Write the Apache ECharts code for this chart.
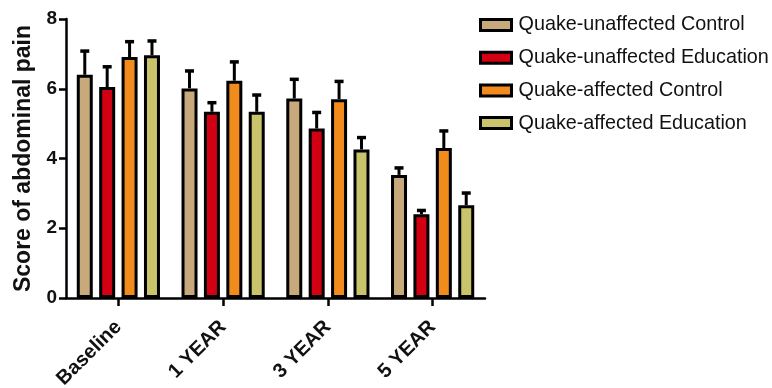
<!DOCTYPE html>
<html>
<head>
<meta charset="utf-8">
<script src="https://cdn.jsdelivr.net/npm/echarts@6/dist/echarts.min.js"></script>
<style>html,body{margin:0;padding:0;background:#fff}#c{width:772px;height:388px}</style>
</head>
<body>
<div id="c"></div>
<script>
const categories = ['Baseline', '1 YEAR', '3 YEAR', '5 YEAR'];
const seriesNames = ['Quake-unaffected Control', 'Quake-unaffected Education', 'Quake-affected Control', 'Quake-affected Education'];
const unaffectedControl = [6.40, 6.01, 5.72, 3.53];
const unaffectedEducation = [6.05, 5.34, 4.86, 2.40];
const affectedControl = [6.91, 6.23, 5.70, 4.30];
const affectedEducation = [6.96, 5.34, 4.26, 2.66];
const unaffectedControlErr = [0.68, 0.50, 0.55, 0.20];
const unaffectedEducationErr = [0.58, 0.26, 0.46, 0.11];
const affectedControlErr = [0.44, 0.54, 0.51, 0.49];
const affectedEducationErr = [0.41, 0.48, 0.34, 0.35];
const yTicks = [0, 2, 4, 6, 8];
const colors = ['#C8A97C', '#D10012', '#F18B1C', '#C9C46B'];

const values = [unaffectedControl, unaffectedEducation, affectedControl, affectedEducation];
const errors = [unaffectedControlErr, unaffectedEducationErr, affectedControlErr, affectedEducationErr];

const FONT = 'Liberation Sans';
const BAR_W = 16;
const GAP = 0.4;
const pitch = BAR_W * (1 + GAP);

const series = [];
values.forEach((vals, i) => {
  series.push({
    name: seriesNames[i],
    type: 'bar',
    data: vals,
    barWidth: BAR_W,
    barGap: (GAP * 100) + '%',
    itemStyle: { color: colors[i], borderColor: '#000', borderWidth: 3 },
    z: 2
  });
});
values.forEach((vals, i) => {
  series.push({
    name: 'err' + i,
    type: 'custom',
    data: vals.map((v, k) => [k, v, v + errors[i][k]]),
    z: 1,
    renderItem: function (params, api) {
      const c = api.value(0);
      const base = api.coord([c, api.value(1)]);
      const top = api.coord([c, api.value(2)]);
      const x = base[0] + (i - 1.5) * pitch;
      return {
        type: 'group',
        children: [
          { type: 'line', shape: { x1: x, y1: base[1], x2: x, y2: top[1] }, style: { stroke: '#000', lineWidth: 3 } },
          { type: 'line', shape: { x1: x - 4.5, y1: top[1], x2: x + 4.5, y2: top[1] }, style: { stroke: '#000', lineWidth: 3.5 } }
        ]
      };
    }
  });
});

const chart = echarts.init(document.getElementById('c'), null, { renderer: 'canvas' });
chart.setOption({
  animation: false,
  backgroundColor: '#fff',
  textStyle: { fontFamily: FONT },
  grid: { left: 66, right: 287, top: 19, bottom: 90, containLabel: false, outerBoundsMode: 'none' },
  legend: {
    data: seriesNames,
    orient: 'vertical',
    left: 479,
    top: 15,
    padding: 0,
    itemWidth: 31,
    itemHeight: 11,
    itemGap: 12.7,
    icon: 'rect',
    itemStyle: { borderColor: '#000', borderWidth: 3 },
    textStyle: { fontFamily: FONT, fontSize: 19.8, color: '#111', padding: [0, 0, 0, 2] }
  },
  xAxis: {
    type: 'category',
    data: categories,
    axisLine: { lineStyle: { color: '#000', width: 2.5 } },
    axisTick: { show: true, alignWithLabel: true, length: 8, lineStyle: { color: '#000', width: 2.5 } },
    axisLabel: { rotate: 45, margin: 26, fontFamily: FONT, fontWeight: 'bold', fontSize: 20, color: '#111' }
  },
  yAxis: {
    type: 'value',
    min: 0,
    max: 8,
    interval: 2,
    name: 'Score of abdominal pain',
    nameLocation: 'middle',
    nameGap: 23,
    nameTextStyle: { fontFamily: FONT, fontWeight: 'bold', fontSize: 23, color: '#111' },
    axisLine: { show: true, lineStyle: { color: '#000', width: 2.5 } },
    axisTick: { show: true, length: 7, lineStyle: { color: '#000', width: 2.5 } },
    splitLine: { show: false },
    axisLabel: {
      fontFamily: FONT, fontWeight: 'bold', fontSize: 19, color: '#111', margin: 9,
      formatter: v => yTicks.indexOf(v) >= 0 ? String(v) : ''
    }
  },
  series: series
});
</script>
</body>
</html>
